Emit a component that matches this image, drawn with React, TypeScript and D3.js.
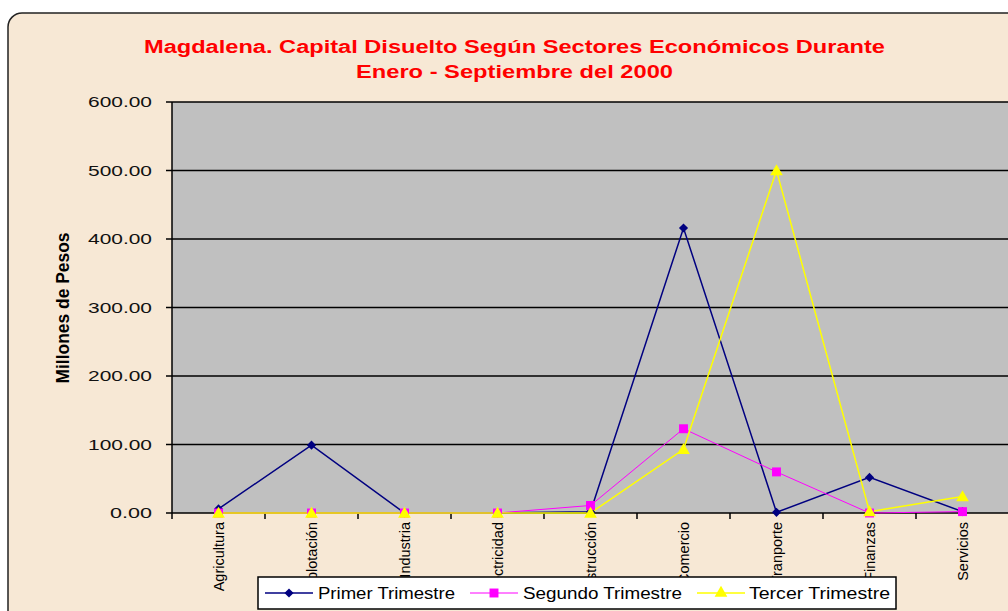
import React, { useEffect, useRef } from 'react';
import * as d3 from 'd3';

const categories = ['Agricultura', 'Explotación', 'Industria', 'Electricidad', 'Construcción', 'Comercio', 'Tranporte', 'Finanzas', 'Servicios'];
const primer = [6, 99, 0, 0, 2, 416, 1, 52, 2];
const segundo = [0, 0, 0, 0, 11, 123, 60, 0, 2];
const tercer = [0, 0, 0, 0, 0, 93, 500, 2, 24];
const yTicks = [0, 100, 200, 300, 400, 500, 600];
const seriesNames = ['Primer Trimestre', 'Segundo Trimestre', 'Tercer Trimestre'];

const W = 1008;
const H = 611;

const App: React.FC = () => {
  const svgRef = useRef<SVGSVGElement>(null);

  useEffect(() => {
    if (!svgRef.current) return;
    const svg = d3.select(svgRef.current);
    svg.selectAll('*').remove();

    const plot = { left: 172, right: 1009, top: 102, bottom: 513 };
    const font = '"Liberation Sans", Arial, sans-serif';

    // background + frame
    svg.append('rect').attr('width', W).attr('height', H).attr('fill', '#ffffff');
    svg.append('rect')
      .attr('x', 8).attr('y', 13).attr('width', 1030).attr('height', 640)
      .attr('rx', 14).attr('ry', 14)
      .attr('fill', '#f7e8d5').attr('stroke', '#222').attr('stroke-width', 1.5);

    // titles
    const titles = [
      { t: 'Magdalena. Capital Disuelto Según Sectores Económicos Durante', y: 53, len: 741 },
      { t: 'Enero - Septiembre del 2000', y: 78, len: 317 },
    ];
    titles.forEach(d => {
      svg.append('text')
        .attr('x', 514.5).attr('y', d.y)
        .attr('text-anchor', 'middle')
        .attr('textLength', d.len).attr('lengthAdjust', 'spacingAndGlyphs')
        .style('font-family', font).style('font-weight', 'bold').style('font-size', '18px')
        .style('fill', '#ff0000')
        .text(d.t);
    });

    const x = d3.scaleBand<string>().domain(categories).range([plot.left, plot.right]);
    const cx = (c: string) => (x(c) as number) + x.bandwidth() / 2;
    const y = d3.scaleLinear().domain([0, 600]).range([plot.bottom, plot.top]);

    // plot area
    svg.append('rect')
      .attr('x', plot.left).attr('y', plot.top)
      .attr('width', plot.right - plot.left).attr('height', plot.bottom - plot.top)
      .attr('fill', '#c0c0c0');

    // gridlines
    svg.append('g').selectAll('line').data(yTicks.filter(v => v > 0)).enter().append('line')
      .attr('x1', plot.left).attr('x2', plot.right)
      .attr('y1', d => y(d)).attr('y2', d => y(d))
      .attr('stroke', '#000').attr('stroke-width', 1.5);

    // y axis
    svg.append('line')
      .attr('x1', plot.left).attr('x2', plot.left).attr('y1', plot.top).attr('y2', plot.bottom)
      .attr('stroke', '#000').attr('stroke-width', 1.5);
    const yg = svg.append('g');
    yg.selectAll('line').data(yTicks).enter().append('line')
      .attr('x1', plot.left - 6).attr('x2', plot.left)
      .attr('y1', d => y(d)).attr('y2', d => y(d))
      .attr('stroke', '#000').attr('stroke-width', 1.5);
    yg.selectAll('text').data(yTicks).enter().append('text')
      .attr('x', 152).attr('y', d => y(d) + 5)
      .attr('text-anchor', 'end')
      .attr('textLength', d => (d >= 100 ? 64 : 42)).attr('lengthAdjust', 'spacingAndGlyphs')
      .style('font-family', font).style('font-size', '14px').style('fill', '#111')
      .text(d => d3.format('.2f')(d));

    svg.append('text')
      .attr('transform', 'translate(69,308) rotate(-90)')
      .attr('text-anchor', 'middle')
      .attr('textLength', 151).attr('lengthAdjust', 'spacingAndGlyphs')
      .style('font-family', font).style('font-weight', 'bold').style('font-size', '18px')
      .text('Millones de Pesos');

    // x axis
    svg.append('line')
      .attr('x1', plot.left).attr('x2', plot.right).attr('y1', plot.bottom).attr('y2', plot.bottom)
      .attr('stroke', '#000').attr('stroke-width', 1.5);
    const xg = svg.append('g');
    xg.selectAll('line').data(categories).enter().append('line')
      .attr('x1', d => x(d) as number).attr('x2', d => x(d) as number)
      .attr('y1', plot.bottom).attr('y2', plot.bottom + 6)
      .attr('stroke', '#000').attr('stroke-width', 1.5);
    xg.selectAll('text').data(categories).enter().append('text')
      .attr('transform', d => `translate(${cx(d) + 5},522) rotate(-90)`)
      .attr('text-anchor', 'end')
      .style('font-family', font).style('font-size', '14.5px').style('fill', '#000')
      .text(d => d);

    // series
    const series = [
      { name: seriesNames[0], values: primer, color: '#000080', width: 1.5, marker: 'diamond' },
      { name: seriesNames[1], values: segundo, color: '#ff00ff', width: 1, marker: 'square' },
      { name: seriesNames[2], values: tercer, color: '#ffff00', width: 1.5, marker: 'triangle' },
    ];
    const symbolFor = (m: string) => {
      if (m === 'diamond') return d3.symbol().type(d3.symbolSquare).size(42)();
      if (m === 'square') return d3.symbol().type(d3.symbolSquare).size(80)();
      return d3.symbol().type(d3.symbolTriangle).size(70)();
    };
    const rot = (m: string) => (m === 'diamond' ? ' rotate(45)' : '');
    const line = d3.line<number>()
      .x((_, i) => cx(categories[i]))
      .y(d => y(d));

    series.forEach(s => {
      svg.append('path')
        .attr('d', line(s.values) as string)
        .attr('fill', 'none').attr('stroke', s.color).attr('stroke-width', s.width);
    });
    series.forEach(s => {
      svg.append('g').selectAll('path').data(s.values).enter().append('path')
        .attr('d', symbolFor(s.marker) as string)
        .attr('transform', (d, i) => `translate(${cx(categories[i])},${y(d) + (s.marker === 'triangle' ? 1 : 0)})${rot(s.marker)}`)
        .attr('fill', s.color).attr('stroke', 'none');
    });

    // legend
    const lg = svg.append('g');
    lg.append('rect')
      .attr('x', 258).attr('y', 577).attr('width', 638).attr('height', 32)
      .attr('fill', '#ffffff').attr('stroke', '#000').attr('stroke-width', 1.5);
    const legendItems = [
      { lx: 265, tx: 318, len: 137 },
      { lx: 470, tx: 523, len: 159 },
      { lx: 697, tx: 749, len: 141 },
    ];
    series.forEach((s, i) => {
      const it = legendItems[i];
      lg.append('line')
        .attr('x1', it.lx).attr('x2', it.lx + 48).attr('y1', 593).attr('y2', 593)
        .attr('stroke', s.color).attr('stroke-width', s.width);
      lg.append('path')
        .attr('d', symbolFor(s.marker) as string)
        .attr('transform', `translate(${it.lx + 24},593)${rot(s.marker)}`)
        .attr('fill', s.color);
      lg.append('text')
        .attr('x', it.tx).attr('y', 599)
        .attr('textLength', it.len).attr('lengthAdjust', 'spacingAndGlyphs')
        .style('font-family', font).style('font-size', '16px').style('fill', '#000')
        .text(s.name);
    });
  }, []);

  return (
    <svg
      ref={svgRef}
      width={W}
      height={H}
      style={{ position: 'absolute', left: 0, top: 0, display: 'block' }}
    />
  );
};

export default App;
